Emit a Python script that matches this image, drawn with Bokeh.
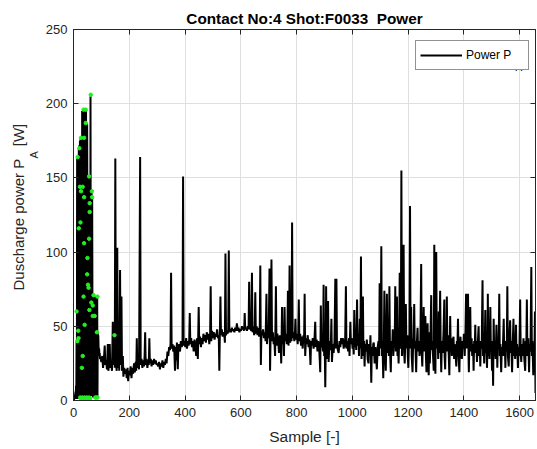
from bokeh.plotting import figure
from bokeh.models import (Range1d, LinearAxis, FixedTicker, Label, Legend, LegendItem,
                          CustomJSTickFormatter, Title)
from bokeh.embed import file_html
from bokeh.resources import INLINE

# ---------------- data ----------------
x_ticks = [0, 200, 400, 600, 800, 1000, 1200, 1400, 1600]
y_ticks = [0, 50, 100, 150, 200, 250]

# start-up burst, one value per sample (samples 0..96)
burst_power = [1, 2, 0, 3, 1, 4, 2, 6, 1, 10, 2, 40, 1, 163, 2, 164, 1, 165, 3, 170,
               1, 172, 2, 175, 1, 176, 3, 177, 2, 176, 22, 195, 2, 195, 30, 196, 2, 195, 70, 196,
               2, 195, 51, 194, 2, 195, 3, 187, 2, 186, 96, 150, 2, 145, 76, 150, 2, 151, 61, 130,
               2, 205, 66, 140, 3, 141, 64, 137, 57, 70, 2, 70, 3, 71, 2, 70, 3, 69, 2, 70,
               3, 69, 2, 68, 3, 70, 2, 46, 40, 44, 36, 33, 35, 30, 32, 28, 29]
burst_sample = list(range(len(burst_power)))

early_pts = [(100,26),(103,30),(106,22),(109,28),(112,37),(114,24),(117,27),(120,21),(123,38),(125,20),
 (128,25),(130,38),(132,22),(135,26),(138,20),(141,53),(143,24),(146,44),(148,22),(150,163),(152,25),
 (155,20),(157,103),(159,22),(162,35),(164,20),(167,88),(169,24),(172,70),(174,20),(177,30),(179,16),
 (182,22),(185,18),(188,21),(191,15),(194,22),(196,13),(199,20),(202,17),(205,23),(208,15),(211,22),
 (214,18),(217,25),(220,19),(223,26),(225,20),(227,42),(229,22),(232,26),(235,21),(237,90),(239,164),
 (241,24),(244,28),(247,22),(250,27),(253,23),(255,30),(257,46),(259,24),(262,28),(265,22),(268,27),
 (270,24),(272,42),(274,25),(277,28),(280,23),(283,27),(286,24),(289,28),(292,25),(295,27),(298,24),
 (301,25),(304,23),(307,26),(310,21),(313,25),(316,23),(319,27),(322,22),(325,26),(328,24),(331,28),
 (334,25),(337,33),(340,30),(343,36),(346,34),(348,38),(350,86),(352,35),(355,38),(358,33),(361,37),
 (364,20),(366,36),(368,27),(371,39),(374,21),(376,35),(379,38),(382,33),(385,40),(388,36),(391,38),
 (393,151),(395,37),(398,40),(401,36),(404,42),(407,35),(410,40),(413,37),(415,41),(417,59),(419,38),
 (422,42),(425,36),(428,40),(431,33),(434,41),(437,37),(440,30),(443,42),(446,28),(449,63),(451,38),
 (454,43),(457,36),(460,42),(463,38),(466,45),(469,40),(472,44),(475,39),(478,46),(481,41),(484,45),
 (487,38),(490,44),(492,77),(494,40),(497,47),(500,42),(503,46),(506,41),(509,45),(512,43),(515,48),
 (518,42),(521,44),(523,20),(525,46),(527,70),(529,44),(532,48),(535,43),(538,46),(541,44),(543,39),
 (545,99),(547,44),(550,47),(553,45),(555,48),(557,101),(559,46),(562,48),(565,46),(568,49),(571,47),
 (574,48),(577,46),(580,49),(583,47),(586,52),(589,47),(592,49),(595,46),(598,48),(601,47),(604,50),
 (607,48),(610,49),(612,47),(614,59),(616,48),(619,49),(622,47),(625,50),(628,48),(630,80),(632,50),
 (635,48)]

mid_pts = [(638,47),(640,86),(642,46),(645,50),(648,44),(650,49),(652,73),(654,45),(657,50),(660,44),
 (663,49),(666,43),(668,47),(670,91),(672,24),(674,46),(677,44),(680,48),(683,42),(686,46),(689,40),
 (692,72),(694,38),(697,46),(700,42),(703,89),(705,20),(707,45),(710,95),(712,40),(715,46),(718,38),
 (720,42),(723,30),(726,77),(728,37),(731,45),(734,41),(737,32),(740,44),(743,38),(745,25),(748,63),
 (750,38),(753,44),(755,30),(757,63),(759,40),(762,45),(765,38),(767,43),(769,74),(771,37),(773,45),
 (775,91),(777,39),(780,44),(782,40),(784,120),(786,42),(789,46),(792,40),(794,44),(796,55),(798,41),
 (801,45),(804,38),(806,44),(808,68),(810,40),(813,45),(816,37),(819,43),(822,35),(825,44),(827,40),
 (829,72),(831,30),(834,42),(837,38),(840,44),(843,36),(846,41),(848,33),(850,24),(852,40),(855,37),
 (858,42),(861,35),(864,40),(867,53),(869,36),(872,41),(875,33),(878,40),(881,36),(883,28),(885,19),
 (887,64),(889,36),(892,40),(895,33),(897,78),(899,30),(901,38),(903,9),(905,40),(906,77),(908,35),
 (911,28),(913,67),(915,26),(918,40),(921,34),(923,38),(925,55),(927,26),(930,38),(933,32),(936,40),
 (939,82),(941,35),(943,82),(945,38),(948,34),(951,32),(954,40),(957,36),(960,42)]

late_pts = [(963,38),(966,42),(969,35),(972,41),(974,36),(977,77),(979,35),(982,40),(985,33),(988,42),
 (990,30),(993,53),(995,38),(998,42),(1001,35),(1003,40),(1005,31),(1007,61),(1009,36),(1012,42),
 (1014,34),(1017,68),(1019,37),(1022,43),(1024,30),(1027,55),(1029,35),(1031,97),(1033,28),(1035,45),
 (1038,70),(1040,30),(1042,40),(1044,23),(1046,38),(1049,33),(1052,41),(1055,28),(1058,25),(1060,38),
 (1063,32),(1065,44),(1068,12),(1070,36),(1073,30),(1075,38),(1077,39),(1080,25),(1083,36),(1085,30),
 (1088,21),(1091,36),(1094,40),(1096,30),(1098,79),(1100,35),(1102,45),(1104,104),(1106,30),(1108,40),
 (1111,15),(1113,38),(1115,74),(1117,35),(1120,20),(1122,40),(1124,72),(1126,32),(1129,45),(1131,30),
 (1133,77),(1135,35),(1138,19),(1140,40),(1143,35),(1145,48),(1147,30),(1150,42),(1152,36),(1154,77),
 (1156,33),(1158,45),(1160,70),(1162,30),(1164,40),(1166,25),(1168,42),(1170,86),(1172,35),(1174,40),
 (1176,155),(1178,30),(1180,45),(1182,38),(1184,105),(1186,32),(1188,25),(1190,42),(1192,65),(1194,35),
 (1197,44),(1199,30),(1201,22),(1203,40),(1205,45),(1207,131),(1209,35),(1211,63),(1213,30),(1216,19),
 (1218,38),(1220,42),(1222,65),(1224,35),(1226,40),(1229,19),(1231,37),(1234,49),(1236,33),(1239,40),
 (1241,30),(1244,38),(1247,92),(1249,32),(1251,23),(1253,40),(1256,63),(1258,33),(1260,38),(1262,57),
 (1264,30),(1266,19),(1268,36),(1270,52),(1272,28),(1274,17),(1276,46),(1278,25),(1280,38)]

end_pts = [(1283,71),(1285,34),(1287,40),(1290,28),(1292,20),(1294,105),(1296,30),(1298,18),(1301,100),
 (1303,35),(1306,44),(1308,28),(1310,60),(1312,32),(1315,74),(1317,36),(1319,19),(1321,40),(1324,32),
 (1327,45),(1330,68),(1331,30),(1333,21),(1335,42),(1337,35),(1339,70),(1341,33),(1343,44),(1346,30),
 (1348,17),(1351,57),(1353,35),(1355,42),(1357,30),(1360,40),(1363,43),(1365,28),(1367,38),(1370,32),
 (1373,23),(1375,40),(1377,36),(1379,55),(1381,30),(1384,19),(1386,38),(1388,43),(1390,33),(1393,28),
 (1395,40),(1398,35),(1400,45),(1403,30),(1406,48),(1408,72),(1410,35),(1413,44),(1415,72),(1417,28),
 (1418,19),(1420,40),(1423,63),(1425,33),(1428,42),(1430,30),(1433,38),(1435,20),(1437,40),(1439,33),
 (1441,51),(1443,32),(1445,40),(1447,26),(1450,38),(1453,50),(1455,30),(1457,40),(1459,23),(1461,38),
 (1464,35),(1467,81),(1469,30),(1471,40),(1473,25),(1475,38),(1477,61),(1479,32),(1481,40),(1483,22),
 (1485,38),(1486,72),(1488,30),(1490,42),(1492,28),(1495,63),(1497,33),(1499,40),(1501,20),(1503,35),
 (1505,10),(1507,55),(1509,30),(1512,40),(1514,28),(1517,51),(1519,35),(1520,22),(1522,40),(1525,35),
 (1527,72),(1529,30),(1531,38),(1534,19),(1536,36),(1539,30),(1541,42),(1543,55),(1545,30),(1547,38),
 (1549,22),(1551,40),(1554,33),(1556,77),(1558,30),(1561,23),(1563,40),(1566,54),(1568,32),(1570,40),
 (1573,19),(1575,36),(1578,55),(1580,30),(1582,40),(1584,28),(1587,51),(1589,30),(1591,38),(1594,22),
 (1596,36),(1599,30),(1602,68),(1604,32),(1606,26),(1608,38),(1611,30),(1614,42),(1617,28),(1620,20),
 (1622,40),(1624,35),(1626,68),(1628,30),(1631,42),(1634,19),(1636,38),(1639,33),(1642,90),(1644,30),
 (1646,40),(1649,17),(1651,38),(1653,30),(1655,60),(1657,5)]

green_sample = [62, 36, 44, 44, 27, 38, 21, 15, 56, 23, 33, 27, 66, 67, 38, 58, 58, 25, 19, 38, 56, 50,
                49, 52, 54, 36, 11, 72, 86, 64, 69, 57, 69, 76, 40, 17, 84, 18, 14, 147, 33, 30,
                24, 28, 32, 36, 40, 44, 48, 52, 56, 60, 78, 82, 86]
green_power = [206, 196, 196, 187, 177, 177, 170, 164, 151, 144, 144, 141, 141, 137, 137, 133, 127, 120,
               116, 106, 109, 96, 85, 78, 76, 70, 60, 71, 70, 66, 64, 61, 57, 57, 51, 47, 46, 42, 40,
               44, 30, 22, 2, 1, 2, 1, 2, 1, 2, 1, 2, 1, 2, 2, 2]

sample = burst_sample[:]
power = burst_power[:]
for pts in (early_pts, mid_pts, late_pts, end_pts):
    sample += [s for s, _ in pts]
    power += [v for _, v in pts]

FONT = "Liberation Sans"
AX = "#262626"

p = figure(width=537, height=449, output_backend="svg", toolbar_location=None,
           x_range=Range1d(0, 1657), y_range=Range1d(0, 250),
           min_border_left=73, min_border_right=2, min_border_top=29, min_border_bottom=49)
p.background_fill_color = "white"
p.border_fill_color = "white"
p.outline_line_color = AX
p.outline_line_width = 1

p.title.text = "Contact No:4 Shot:F0033\u00a0\u00a0Power"
p.title.align = "center"
p.title.offset = -5
p.title.text_font = FONT
p.title.text_font_size = "15.3px"
p.title.text_font_style = "bold"
p.title.text_color = "#000000"
p.title.standoff = 6

for ax in (p.xaxis[0], p.yaxis[0]):
    ax.axis_line_color = AX
    ax.major_tick_line_color = AX
    ax.major_tick_in = 5
    ax.major_tick_out = 0
    ax.minor_tick_line_color = None
    ax.major_label_text_font = FONT
    ax.major_label_text_font_size = "13px"
    ax.major_label_text_color = AX

p.xaxis[0].ticker = FixedTicker(ticks=x_ticks)
p.yaxis[0].ticker = FixedTicker(ticks=y_ticks)
p.xaxis[0].major_label_standoff = 7
p.yaxis[0].major_label_standoff = 6
p.xaxis[0].axis_label = "Sample [-]"
p.xaxis[0].axis_label_text_font = FONT
p.xaxis[0].axis_label_text_font_size = "15.5px"
p.xaxis[0].axis_label_text_font_style = "normal"
p.xaxis[0].axis_label_text_color = AX
p.xaxis[0].axis_label_standoff = 8

for loc, tks in (("above", x_ticks), ("right", y_ticks)):
    a = LinearAxis(ticker=FixedTicker(ticks=tks),
                   formatter=CustomJSTickFormatter(code="return ''"),
                   major_tick_in=5, major_tick_out=0, minor_tick_line_color=None,
                   major_label_standoff=0, axis_line_color=AX, major_tick_line_color=AX,
                   major_label_text_font_size="1px")
    p.add_layout(a, loc)

# y-axis label with its subscript, as titles in the left panel
t_sub = Title(text="A", align="left", offset=242, standoff=5, text_font=FONT,
              text_font_size="11px", text_font_style="normal", text_color=AX)
t_main = Title(text="Duscharge power P\u00a0\u00a0\u00a0[W]", align="left", offset=110, standoff=-6,
               text_font=FONT, text_font_size="15px", text_font_style="normal", text_color=AX)
p.add_layout(t_sub, "left")
p.add_layout(t_main, "left")

p.xgrid.ticker = FixedTicker(ticks=x_ticks)
p.ygrid.ticker = FixedTicker(ticks=y_ticks)
for g in (p.xgrid[0], p.ygrid[0]):
    g.grid_line_color = "#dfdfdf"
    g.grid_line_width = 1

line_r = p.line(sample, power, line_color="black", line_width=2)
p.scatter(green_sample, green_power, size=3.5, color="#22ee22", marker="circle")

legend = Legend(items=[LegendItem(label="Power P", renderers=[line_r])],
                location=(342, 330), margin=0, padding=4, spacing=0,
                glyph_width=42, glyph_height=20, label_standoff=4, label_width=58,
                label_text_font=FONT, label_text_font_size="12px", label_text_color="#000000",
                border_line_color=AX, border_line_width=1, background_fill_color="white",
                background_fill_alpha=1)
p.add_layout(legend)

# legend label subscript
p.add_layout(Label(x=515, y=67, x_units="canvas", y_units="canvas", text="A",
                   text_font=FONT, text_font_size="10px", text_color="#000000", level="overlay",
                   text_align="left", text_baseline="alphabetic"))

open("out.html", "w").write(file_html(p, INLINE))
